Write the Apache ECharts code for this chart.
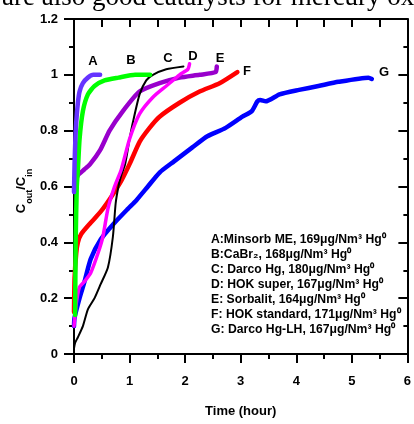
<!DOCTYPE html>
<html>
<head>
<meta charset="utf-8">
<script src="https://cdn.jsdelivr.net/npm/echarts@6/dist/echarts.min.js"></script>
<style>
html,body{margin:0;padding:0;background:#fff;}
#main{width:414px;height:424px;}
</style>
</head>
<body>
<div id="main"></div>
<script>
// ---- data (time in hours, Cout/Cin) ----
const seriesNames = ['A', 'B', 'C', 'D', 'E', 'F', 'G'];
const xTicks = [0, 1, 2, 3, 4, 5, 6];
const yTicks = [0, 0.2, 0.4, 0.6, 0.8, 1, 1.2];

const curveA = [[0,0.58],[0.01,0.68],[0.025,0.77],[0.04,0.83],[0.07,0.9],[0.1,0.94],[0.16,0.97],[0.25,0.99],[0.35,1.0],[0.47,1.0]];
const curveB = [[0.02,0.14],[0.03,0.4],[0.05,0.6],[0.07,0.66],[0.1,0.77],[0.16,0.87],[0.25,0.93],[0.37,0.96],[0.55,0.98],[0.8,0.99],[1.1,1.0],[1.37,1.0]];
const curveC = [[0,0.02],[0.02,0.04],[0.07,0.06],[0.16,0.1],[0.25,0.16],[0.37,0.2],[0.48,0.25],[0.61,0.31],[0.7,0.42],[0.75,0.54],[0.8,0.6],[0.85,0.64],[0.92,0.68],[1.0,0.77],[1.06,0.83],[1.18,0.93],[1.3,0.98],[1.42,1.0],[1.66,1.02],[1.97,1.03]];
const curveD = [[0,0.1],[0.04,0.18],[0.1,0.24],[0.19,0.26],[0.3,0.29],[0.43,0.36],[0.52,0.42],[0.61,0.52],[0.73,0.6],[0.85,0.66],[1.0,0.77],[1.18,0.86],[1.42,0.92],[1.66,0.96],[1.9,1.0],[2.05,1.02],[2.08,1.04]];
const curveE = [[0.03,0.62],[0.07,0.64],[0.18,0.66],[0.29,0.68],[0.47,0.73],[0.64,0.8],[0.88,0.87],[1.18,0.94],[1.54,0.97],[1.9,0.99],[2.26,1.0],[2.55,1.01],[2.57,1.03]];
const curveF = [[0,0.15],[0.01,0.27],[0.04,0.36],[0.07,0.4],[0.13,0.43],[0.3,0.47],[0.48,0.51],[0.66,0.56],[0.85,0.62],[1.0,0.68],[1.18,0.76],[1.36,0.81],[1.54,0.85],[1.9,0.9],[2.26,0.94],[2.62,0.97],[2.94,1.01]];
const curveG = [[0,0.1],[0.01,0.13],[0.1,0.2],[0.19,0.26],[0.3,0.34],[0.48,0.41],[0.73,0.47],[0.97,0.52],[1.12,0.55],[1.33,0.6],[1.54,0.65],[1.8,0.69],[2.13,0.74],[2.4,0.78],[2.73,0.81],[3.03,0.85],[3.2,0.87],[3.3,0.905],[3.35,0.91],[3.45,0.905],[3.7,0.93],[4.05,0.946],[4.4,0.96],[4.76,0.975],[5.3,0.99],[5.36,0.985]];

const legendLines = [
  'A:Minsorb ME, 169μg/Nm³ Hg⁰',
  'B:CaBr₂, 168μg/Nm³ Hg⁰',
  'C: Darco Hg, 180μg/Nm³ Hg⁰',
  'D: HOK super, 167μg/Nm³ Hg⁰',
  'E: Sorbalit, 164μg/Nm³ Hg⁰',
  'F: HOK standard, 171μg/Nm³ Hg⁰',
  'G: Darco Hg-LH, 167μg/Nm³ Hg⁰'
];
const headerText = 'are also good catalysts for mercury oxidation';
const yAxisTitle = '{a|C}{b|out}{a|/C}{b|in}';
const xAxisTitle = 'Time (hour)';

// ---- styles ----
const curves = [curveA, curveB, curveC, curveD, curveE, curveF, curveG];
const colors = ['#6633ff', '#00ff00', '#000000', '#ff00ff', '#9900cc', '#ff0000', '#0000ff'];
const widths = [4.5, 4.5, 2, 3.5, 4.5, 4.5, 4.5];
const zs = [8, 7, 5, 6, 4, 3, 2];
const labelPos = [[93,61],[131,60],[168,58],[193,56],[220,58],[247,71],[384,72]];
const FONT = 'Liberation Sans, Arial, sans-serif';

const chart = echarts.init(document.getElementById('main'), null, {renderer: 'canvas'});

const axisLineStyle = {color: '#000', width: 2};

const series = curves.map((c, i) => ({
  name: seriesNames[i],
  type: 'line',
  data: c,
  showSymbol: false,
  smooth: 0.2,
  z: zs[i],
  lineStyle: {color: colors[i], width: widths[i], cap: 'round', join: 'round'},
  itemStyle: {color: colors[i]},
  animation: false
}));

const graphics = [];
graphics.push({
  type: 'text', left: 2, top: -16,
  style: {text: headerText, font: '27px "Liberation Serif", "Times New Roman", serif', fill: '#000'}
});
graphics.push({
  type: 'text', x: 23, y: 191, rotation: Math.PI / 2,
  style: {
    text: yAxisTitle, align: 'center', verticalAlign: 'middle',
    rich: {
      a: {fontFamily: FONT, fontWeight: 'bold', fontSize: 13, fill: '#000', lineHeight: 16, verticalAlign: 'top'},
      b: {fontFamily: FONT, fontWeight: 'bold', fontSize: 9, fill: '#000', lineHeight: 9, padding: [10, 0, 0, 0], verticalAlign: 'top'}
    }
  }
});
seriesNames.forEach((n, i) => {
  graphics.push({
    type: 'text', x: labelPos[i][0], y: labelPos[i][1],
    style: {text: n, font: 'bold 13px ' + FONT, fill: '#000', align: 'center', verticalAlign: 'middle'}
  });
});
legendLines.forEach((t, i) => {
  graphics.push({
    type: 'text', x: 211, y: 240 + i * 15,
    style: {text: t, font: 'bold 12.2px ' + FONT, fill: '#000', align: 'left', verticalAlign: 'middle'}
  });
});

const option = {
  backgroundColor: '#fff',
  animation: false,
  grid: {left: 74, right: 5, top: 19, bottom: 70, containLabel: false},
  xAxis: [
    {
      type: 'value', position: 'bottom', min: 0, max: 6, interval: 1,
      axisLine: {show: true, onZero: false, lineStyle: axisLineStyle},
      axisTick: {show: true, inside: false, length: 9, lineStyle: {color: '#000', width: 2}},
      minorTick: {show: true, splitNumber: 2, length: 5, lineStyle: {color: '#000', width: 2}},
      axisLabel: {fontFamily: FONT, fontWeight: 'bold', fontSize: 13, color: '#000', margin: 21,
        formatter: v => xTicks.includes(v) ? String(v) : ''},
      splitLine: {show: false},
      name: xAxisTitle, nameLocation: 'middle', nameGap: 51,
      nameTextStyle: {fontFamily: FONT, fontWeight: 'bold', fontSize: 13, color: '#000'}
    },
    {
      type: 'value', position: 'top', min: 0, max: 6, interval: 1,
      axisLine: {show: true, onZero: false, lineStyle: axisLineStyle},
      axisTick: {show: true, inside: true, length: 8, lineStyle: {color: '#000', width: 2}},
      minorTick: {show: true, splitNumber: 2, length: 8, lineStyle: {color: '#000', width: 2}},
      axisLabel: {show: false},
      splitLine: {show: false}
    }
  ],
  yAxis: [
    {
      type: 'value', position: 'left', min: 0, max: 1.2, interval: 0.2,
      axisLine: {show: true, onZero: false, lineStyle: axisLineStyle},
      axisTick: {show: true, inside: false, length: 10, lineStyle: {color: '#000', width: 2}},
      minorTick: {show: true, splitNumber: 2, length: 5, lineStyle: {color: '#000', width: 2}},
      axisLabel: {fontFamily: FONT, fontWeight: 'bold', fontSize: 13, color: '#000', margin: 16,
        formatter: v => { const t = yTicks.find(y => Math.abs(y - v) < 1e-6); return t === undefined ? '' : String(t); }},
      splitLine: {show: false}
    },
    {
      type: 'value', position: 'right', min: 0, max: 1.2, interval: 0.2,
      axisLine: {show: true, onZero: false, lineStyle: axisLineStyle},
      axisTick: {show: true, inside: true, length: 9, lineStyle: {color: '#000', width: 2}},
      minorTick: {show: true, splitNumber: 2, length: 4, lineStyle: {color: '#000', width: 2}},
      axisLabel: {show: false},
      splitLine: {show: false}
    }
  ],
  series: series,
  graphic: graphics
};
chart.setOption(option);
</script>
</body>
</html>
